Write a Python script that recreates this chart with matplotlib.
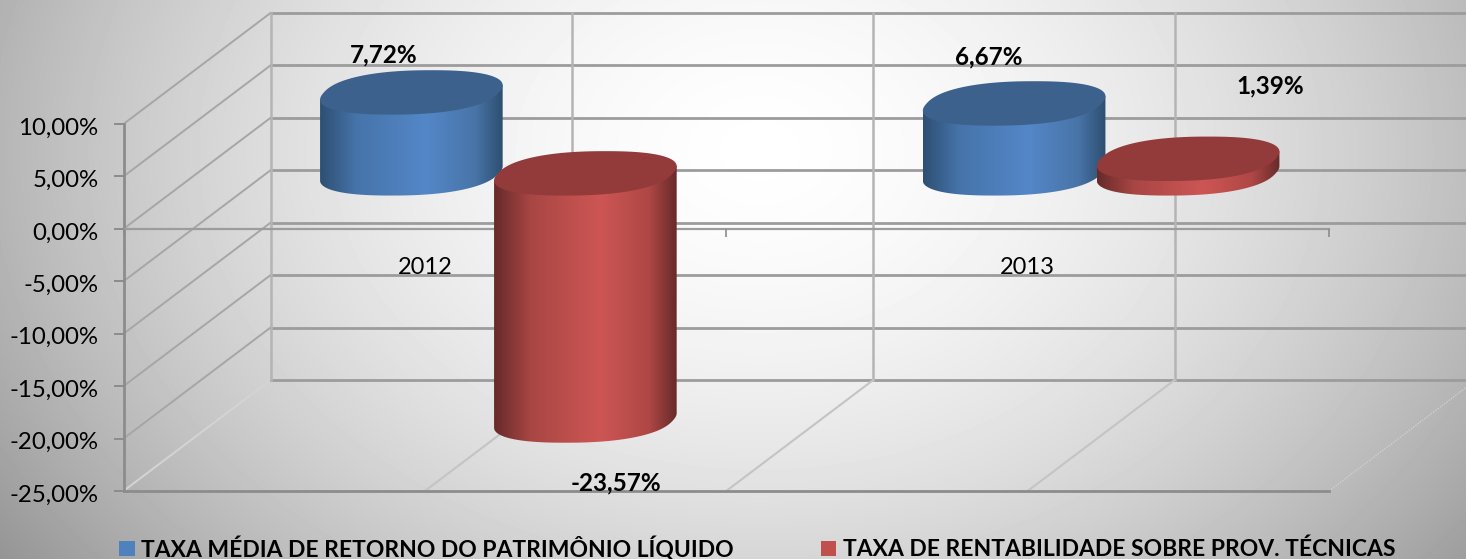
"""Faux 3D cylinder column chart: rates of return 2012-2013"""

import numpy as np
import matplotlib
matplotlib.use('Agg')
import matplotlib.pyplot as plt
from matplotlib.colors import LinearSegmentedColormap
from matplotlib.patches import Patch, Polygon
from matplotlib.transforms import ScaledTranslation

# Data
years = ['2012', '2013']
series_names = ['TAXA MÉDIA DE RETORNO DO PATRIMÔNIO LÍQUIDO',
                'TAXA DE RENTABILIDADE SOBRE PROV. TÉCNICAS']
retorno_pl = [7.72, 6.67]
rentabilidade = [-23.57, 1.39]
y_ticks = [10, 5, 0, -5, -10, -15, -20, -25]

# Figure size and plot frame in pixels
W, H = 1466, 559
LEFT, RIGHT, TOP, BOTTOM = 123.5, 1329, 124, 491
PX_X = (RIGHT - LEFT) / 2
PX_Y = (BOTTOM - TOP) / 35

# The wall sits this far behind the front plane
DEPTH_X = 147 / PX_X
DEPTH_Y = 111 / PX_Y
BAR_OFFSET = 87 / PX_X
BAR_RADIUS = 87.5 / PX_X
BAR_SHEAR = 20 / PX_X
BAR_DEPTH = 0.2

BLUE = ['#2e4f73', '#4674aa', '#5487c8', '#4874a8', '#2e4f70']
RED = ['#672a2a', '#a84644', '#cd5654', '#ae4745', '#672a2a']
BLUE_TOP = '#3c618c'
RED_TOP = '#923b3a'
GRID = '#9c9c9c'
WALL = '#b4b4b4'
TEXT_FONT = 'Lato'


def fmt(v):
    return f'{v:.2f}%'.replace('.', ',')


def draw_background(fig):
    ax_bg = fig.add_axes([0, 0, 1, 1], zorder=-1)
    xx, yy = np.meshgrid(np.arange(W), np.arange(H))
    r = np.sqrt(((xx - 760) / 750) ** 2 + ((yy - 150) / 560) ** 2)
    shade = 1.0 - 0.06 * r - 0.22 * r ** 2
    ax_bg.imshow(shade, cmap='gray', vmin=0, vmax=1, aspect='auto')
    ax_bg.axis('off')


def draw_walls(ax):
    for v in y_ticks:
        # side wall diagonal + back wall line
        color = '#d4d4d4' if v == min(y_ticks) else '#a6a6a6'
        ax.plot([0, DEPTH_X], [v, v + DEPTH_Y], color=color, lw=1.4,
                clip_on=False, zorder=1)
        ax.plot([DEPTH_X, 2.4], [v + DEPTH_Y] * 2, color=GRID, lw=2,
                clip_on=False, zorder=1)
    top = max(y_ticks) + DEPTH_Y
    bottom = min(y_ticks) + DEPTH_Y
    for k in np.arange(0, 2.5, 0.5):
        ax.plot([k + DEPTH_X] * 2, [bottom, top], color=WALL, lw=1.8,
                clip_on=False, zorder=1)
        if 0 < k < 2:
            ax.plot([k, k + DEPTH_X], [min(y_ticks), bottom], color='#c4c4c4',
                    lw=1.5, clip_on=False, zorder=1)
    ax.plot([2, 2 + DEPTH_X], [min(y_ticks), bottom], color='#d0d0d0', lw=1,
            ls=(0, (1, 1)), clip_on=False, zorder=1)
    ax.plot([0, 2], [min(y_ticks)] * 2, color='#8c8c8c', lw=2, clip_on=False,
            zorder=1.5)


def ellipse(cx, cy):
    t = np.linspace(0, 2 * np.pi, 200)
    # slightly squarer than a true ellipse, like the original
    c = np.sign(np.cos(t)) * np.abs(np.cos(t)) ** 0.85
    s = np.sign(np.sin(t)) * np.abs(np.sin(t)) ** 0.85
    x = cx + BAR_RADIUS * c + BAR_SHEAR * s
    y = cy + BAR_DEPTH * DEPTH_Y * s
    return x, y


def draw_cylinder(ax, center, value, colors, top_color, zorder):
    cx = center + DEPTH_X / 2
    y_top = max(value, 0) + DEPTH_Y / 2
    y_low = min(value, 0) + DEPTH_Y / 2

    x1, y1 = ellipse(cx, y_top)
    x2, y2 = ellipse(cx, y_low)
    i_left, i_right = np.argmin(x1), np.argmax(x1)

    # silhouette: lower half of the base, then up to the top side points
    order = np.r_[i_left:len(x1), 0:i_right + 1]
    body_x = np.r_[x2[order], x1[i_right], x1[i_left]]
    body_y = np.r_[y2[order], y1[i_right], y1[i_left]]

    body = Polygon(np.c_[body_x, body_y], closed=True, fc='none', ec='none',
                   clip_on=False, zorder=zorder)
    ax.add_patch(body)
    cmap = LinearSegmentedColormap.from_list(
        'cyl', list(zip([0, 0.2, 0.58, 0.85, 1], colors)))
    grad = np.linspace(0, 1, 256).reshape(1, -1)
    im = ax.imshow(grad, cmap=cmap, aspect='auto', zorder=zorder,
                   extent=[x1.min(), x1.max(), y_low - 3, y_top + 3])
    im.set_clip_box(ax.figure.bbox)
    im.set_clip_path(body)

    ax.fill(x1, y1, color=top_color, lw=0, clip_on=False, zorder=zorder + 0.1)


def plot_chart():
    plt.rcParams['font.family'] = [TEXT_FONT, 'DejaVu Sans']
    fig = plt.figure(figsize=(W / 100, H / 100), dpi=100)
    draw_background(fig)

    ax = fig.add_axes([LEFT / W, 1 - BOTTOM / H, (RIGHT - LEFT) / W, (BOTTOM - TOP) / H])
    ax.patch.set_alpha(0)
    for name in ['top', 'right']:
        ax.spines[name].set_visible(False)
    ax.spines['left'].set_color('#8c8c8c')
    ax.spines['left'].set_linewidth(2)
    ax.spines['bottom'].set_position(('data', 0))
    ax.spines['bottom'].set_color('#9c9c9c')
    ax.spines['bottom'].set_linewidth(1.6)
    for spine in ax.spines.values():
        spine.set_zorder(1.5)

    draw_walls(ax)

    x = np.arange(len(years)) + 0.5
    for i in range(len(years)):
        draw_cylinder(ax, x[i] - BAR_OFFSET, retorno_pl[i], BLUE, BLUE_TOP, 5 + 2 * i)
        draw_cylinder(ax, x[i] + BAR_OFFSET, rentabilidade[i], RED, RED_TOP, 6 + 2 * i)

    # Data labels, shifted by hand as in the original
    label_style = dict(ha='center', va='center', fontsize=17.5, fontweight='bold',
                       color='black', zorder=20, clip_on=False)
    ax.text(0.431, 16.6, fmt(retorno_pl[0]), **label_style)
    ax.text(1.435, 16.4, fmt(retorno_pl[1]), **label_style)
    ax.text(1.903, 13.6, fmt(rentabilidade[1]), **label_style)
    ax.text(0.817, -24.25, fmt(rentabilidade[0]), **label_style)

    ax.set_xticks([0, 1, 2])
    ax.set_xticklabels([])
    ax.set_xticks(x, minor=True)
    ax.set_xticklabels(years, minor=True, fontsize=17)
    ax.tick_params(axis='x', which='major', length=6, width=1.2, color='#8c8c8c', direction='out')
    ax.tick_params(axis='x', which='minor', length=0, pad=20)
    ax.set_yticks(y_ticks)
    ax.set_yticklabels([fmt(v) for v in y_ticks], fontsize=17.3)
    ax.tick_params(axis='y', length=7, width=1.4, color='#8c8c8c', pad=11)
    # tick labels sit a little below their gridline in the original
    shift = ScaledTranslation(0, -2 / 100, fig.dpi_scale_trans)
    for label in ax.get_yticklabels():
        label.set_transform(label.get_transform() + shift)

    ax.set_xlim(0, 2)
    ax.set_ylim(-25, 10)

    handles = [Patch(fc='#4f81bd', ec='none'), Patch(fc='#c0504d', ec='none')]
    fig.legend(handles, series_names, ncol=2, frameon=False, loc='lower left',
               bbox_to_anchor=(119 / W, -1.5 / H), borderpad=0, borderaxespad=0,
               handlelength=0.68, handleheight=0.68, handletextpad=0.3,
               columnspacing=3.78, prop={'weight': 'bold', 'size': 16.5})

    plt.savefig('out.png', dpi=100)


if __name__ == '__main__':
    plot_chart()
